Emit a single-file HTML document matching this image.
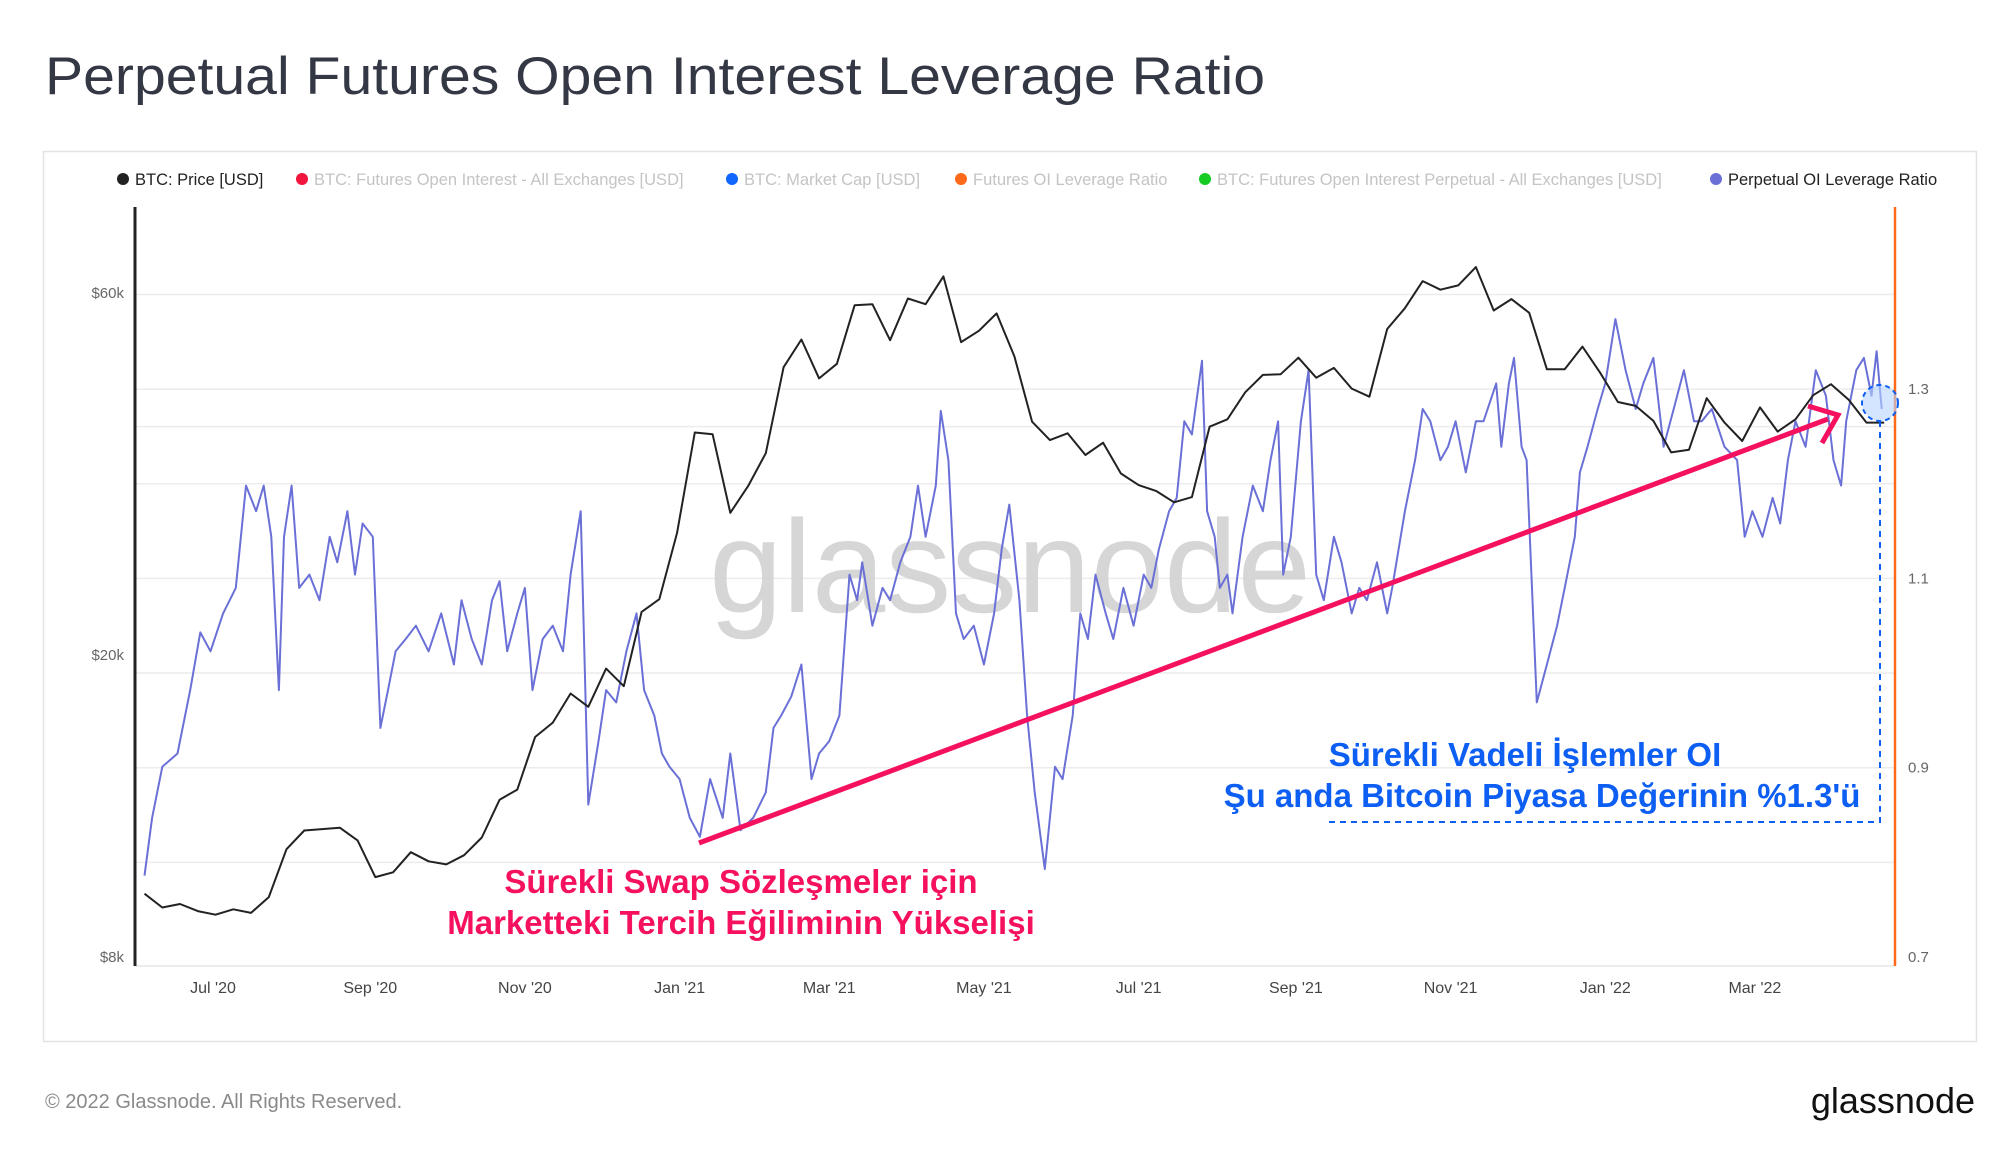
<!DOCTYPE html>
<html><head><meta charset="utf-8"><style>
html,body{margin:0;padding:0;background:#fff;}
svg{display:block;font-family:"Liberation Sans","DejaVu Sans",sans-serif;}
</style></head><body>
<svg id="chart" width="2000" height="1152" viewBox="0 0 2000 1152" xmlns="http://www.w3.org/2000/svg">
<text x="45" y="94" font-size="53" fill="#343844" textLength="1220" lengthAdjust="spacingAndGlyphs">Perpetual Futures Open Interest Leverage Ratio</text>
<rect x="43.5" y="151.5" width="1933" height="890" fill="none" stroke="#e3e3e3" stroke-width="1.5"/>
<g id="legend" font-size="16.5">
 <g><circle cx="123" cy="179" r="6" fill="#222"/><text x="135" y="185" fill="#222">BTC: Price [USD]</text></g>
 <g><circle cx="302" cy="179" r="6" fill="#f2153d"/><text x="314" y="185" fill="#c4c4c4">BTC: Futures Open Interest - All Exchanges [USD]</text></g>
 <g><circle cx="732" cy="179" r="6" fill="#1166ff"/><text x="744" y="185" fill="#c4c4c4">BTC: Market Cap [USD]</text></g>
 <g><circle cx="961" cy="179" r="6" fill="#ff6a1a"/><text x="973" y="185" fill="#c4c4c4">Futures OI Leverage Ratio</text></g>
 <g><circle cx="1205" cy="179" r="6" fill="#16cc22"/><text x="1217" y="185" fill="#c4c4c4">BTC: Futures Open Interest Perpetual - All Exchanges [USD]</text></g>
 <g><circle cx="1716" cy="179" r="6" fill="#6a70d6"/><text x="1728" y="185" fill="#222">Perpetual OI Leverage Ratio</text></g>
</g>
<g id="grid"></g>
<text x="1010" y="612" font-size="132" fill="#d0d0d0" text-anchor="middle" opacity="0.85">glassnode</text>
<g id="axes"></g>
<g id="series"></g>
<g id="annot">
 <line x1="699" y1="843" x2="1828" y2="419" stroke="#f5115f" stroke-width="5"/>
 <polyline points="1808,406 1838,415 1822,443" fill="none" stroke="#f5115f" stroke-width="5" stroke-linejoin="miter"/>
 <text x="741" y="893" font-size="33" font-weight="bold" fill="#f5115f" text-anchor="middle">Sürekli Swap Sözleşmeler için</text>
 <text x="741" y="934" font-size="33" font-weight="bold" fill="#f5115f" text-anchor="middle">Marketteki Tercih Eğiliminin Yükselişi</text>
 <text x="1525" y="766" font-size="33" font-weight="bold" fill="#0d5ef2" text-anchor="middle">Sürekli Vadeli İşlemler OI</text>
 <text x="1542" y="807" font-size="33" font-weight="bold" fill="#0d5ef2" text-anchor="middle">Şu anda Bitcoin Piyasa Değerinin %1.3'ü</text>
 <polyline points="1329,822 1880,822 1880,422" fill="none" stroke="#0d5ef2" stroke-width="2" stroke-dasharray="6,5"/>
 <circle cx="1880" cy="403" r="18" fill="#b8d4ff" fill-opacity="0.6" stroke="#0d5ef2" stroke-width="2" stroke-dasharray="5,4"/>
</g>
<text x="45" y="1108" font-size="20" fill="#8a8a8a">© 2022 Glassnode. All Rights Reserved.</text>
<text x="1975" y="1113" font-size="36" fill="#111" text-anchor="end">glassnode</text>
</svg>
<script>
// ---- data ----
const priceStartDay = -27; // days from 2020-07-01, weekly
const priceValues = [9700,9300,9400,9200,9100,9250,9150,9600,11100,11750,11800,11850,11400,10200,10350,11000,10700,10600,10900,11500,12900,13300,15600,16300,17800,17100,19200,18200,22800,23700,29000,39300,39100,30800,33400,36900,47900,52100,46300,48400,57800,58000,52000,59000,58000,63100,51700,53500,56400,49500,40600,38400,39200,36700,38100,34700,33500,32900,31800,32300,40000,40900,44400,46800,46900,49300,46400,47800,44900,43800,53800,57300,62200,60600,61400,64900,56900,58900,56500,47600,47600,51000,47100,43100,42600,40700,37000,37300,43600,40500,38300,42400,39400,40900,44000,45500,43400,40500,40500];
const ratioDays = [-27,-24,-20,-14,-9,-5,-1,4,9,13,17,20,23,26,28,31,34,38,42,46,49,53,56,59,63,66,69,72,76,80,85,90,95,98,102,106,110,113,116,120,123,126,130,134,138,141,145,148,152,155,159,163,167,170,174,177,180,184,188,192,196,201,204,208,213,218,221,224,228,232,236,239,243,247,251,254,256,260,264,267,271,275,278,281,285,287,290,293,296,300,304,308,311,314,318,321,324,328,332,335,339,342,345,348,352,355,359,363,367,370,373,377,380,383,386,390,392,395,397,400,402,406,410,414,417,420,422,425,429,432,435,438,442,445,449,452,455,459,463,465,470,474,477,480,484,487,490,494,498,501,506,508,511,513,516,518,522,526,530,533,537,539,542,546,549,553,557,561,564,568,572,576,580,584,587,591,596,601,604,607,611,615,618,621,624,628,632,636,639,642,644,648,651,654,656,658];
const ratioValues = [0.786,0.847,0.901,0.915,0.982,1.043,1.023,1.063,1.090,1.198,1.171,1.198,1.144,0.982,1.144,1.198,1.090,1.104,1.077,1.144,1.117,1.171,1.104,1.158,1.144,0.942,0.982,1.023,1.036,1.050,1.023,1.063,1.009,1.077,1.036,1.009,1.077,1.097,1.023,1.063,1.090,0.982,1.036,1.050,1.023,1.104,1.171,0.861,0.928,0.982,0.969,1.023,1.063,0.982,0.955,0.915,0.901,0.888,0.847,0.827,0.888,0.847,0.915,0.834,0.847,0.874,0.942,0.955,0.975,1.009,0.888,0.915,0.928,0.955,1.104,1.077,1.117,1.050,1.090,1.077,1.117,1.144,1.198,1.144,1.198,1.277,1.225,1.063,1.036,1.050,1.009,1.063,1.131,1.178,1.077,0.955,0.874,0.793,0.901,0.888,0.955,1.063,1.036,1.104,1.063,1.036,1.090,1.050,1.104,1.090,1.131,1.171,1.185,1.266,1.252,1.330,1.171,1.144,1.090,1.104,1.063,1.144,1.198,1.171,1.225,1.266,1.104,1.144,1.266,1.320,1.104,1.077,1.144,1.117,1.063,1.090,1.077,1.117,1.063,1.090,1.171,1.225,1.279,1.266,1.225,1.239,1.266,1.212,1.266,1.266,1.306,1.239,1.306,1.333,1.239,1.225,0.969,1.009,1.050,1.090,1.144,1.212,1.239,1.279,1.306,1.374,1.320,1.279,1.306,1.333,1.239,1.279,1.320,1.266,1.266,1.279,1.239,1.225,1.144,1.171,1.144,1.185,1.158,1.225,1.266,1.239,1.320,1.293,1.225,1.198,1.266,1.320,1.333,1.293,1.340,1.279];
const leftTickValues = [8000,20000,60000];
const leftTickLabels = ["$8k","$20k","$60k"];
const rightTickValues = [0.7,0.9,1.1,1.3];
const rightTickLabels = ["0.7","0.9","1.1","1.3"];
const gridRatios = [0.8,0.9,1.0,1.1,1.2,1.3,1.4];
const xTickDays = [0,62,123,184,243,304,365,427,488,549,608];
const xTickLabels = ["Jul '20","Sep '20","Nov '20","Jan '21","Mar '21","May '21","Jul '21","Sep '21","Nov '21","Jan '22","Mar '22"];
// ---- scales ----
const NS="http://www.w3.org/2000/svg";
const PL=135, PR=1895, PT=207, PB=966;
function xScale(d){return 213 + d*2.536;}
function yPrice(v){return 293 + (Math.log10(60000)-Math.log10(v))*759;}
function yRatio(v){return 957 - (v-0.7)*946.5;}
function mk(tag, attrs, parent){const e=document.createElementNS(NS,tag);for(const k in attrs)e.setAttribute(k,attrs[k]);parent.appendChild(e);return e;}
const grid=document.getElementById('grid'), axes=document.getElementById('axes'), series=document.getElementById('series');
gridRatios.forEach(r=>{
 const l=mk('line',{x1:PL,x2:PR,y1:yRatio(r),y2:yRatio(r),stroke:'#ececec','stroke-width':1.5},grid);
 
 
});
{
 const l=mk('line',{x1:PL,x2:PR,y1:yPrice(40000),y2:yPrice(40000),stroke:'#ececec','stroke-width':1.5},grid);
 
 
}
{
 const l=mk('line',{x1:PL,x2:PR,y1:PB,y2:PB,stroke:'#e6e6e6','stroke-width':1.5},axes);
 
 
 const a=mk('line',{x1:PL,x2:PL,y1:PT,y2:PB,stroke:'#222','stroke-width':3},axes);
 
 
 const b=mk('line',{x1:PR,x2:PR,y1:PT,y2:PB,stroke:'#ff6a1a','stroke-width':2.5},axes);
 
 
}
leftTickValues.forEach((v,i)=>{
 const t=mk('text',{x:124,y:yPrice(v)+5,'font-size':15,fill:'#666','text-anchor':'end'},axes);
 t.textContent=leftTickLabels[i];
 
 
});
rightTickValues.forEach((v,i)=>{
 const t=mk('text',{x:1908,y:yRatio(v)+5,'font-size':15,fill:'#666'},axes);
 t.textContent=rightTickLabels[i];
 
 
});
xTickDays.forEach((d,i)=>{
 const t=mk('text',{x:xScale(d),y:993,'font-size':16,fill:'#444','text-anchor':'middle'},axes);
 t.textContent=xTickLabels[i];
 
 
});
const rp=ratioDays.map((d,i)=>xScale(d).toFixed(1)+','+yRatio(ratioValues[i]).toFixed(1)).join(' ');
const rl=mk('polyline',{points:rp,fill:'none',stroke:'#6a70d6','stroke-width':2,'stroke-linejoin':'round'},series);


const pp=priceValues.map((v,i)=>xScale(priceStartDay+7*i).toFixed(1)+','+yPrice(v).toFixed(1)).join(' ');
const pl=mk('polyline',{points:pp,fill:'none',stroke:'#222','stroke-width':2,'stroke-linejoin':'round'},series);


</script>
</body></html>
